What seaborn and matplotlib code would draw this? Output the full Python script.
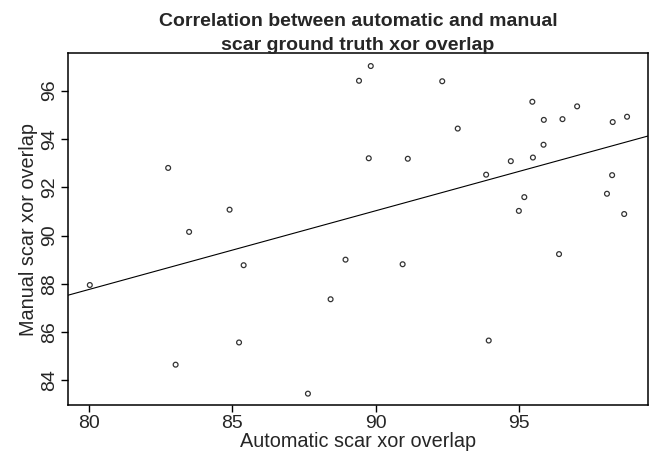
import matplotlib
matplotlib.use("Agg")
import matplotlib.pyplot as plt
import seaborn as sns
import pandas as pd

sns.set_style("white")
plt.rcParams['font.family'] = ['Liberation Sans', 'DejaVu Sans']

automatic = [89.82, 89.41, 92.31, 95.45, 97.01, 95.85, 96.50, 98.25, 98.75, 92.85,
             95.84, 89.75, 91.11, 94.70, 95.47, 93.84, 98.23, 98.05, 95.17, 94.98,
             98.65, 82.76, 84.90, 83.49, 80.03, 85.39, 88.94, 88.42, 85.23, 83.02,
             87.63, 90.93, 96.38, 93.93]
manual = [97.02, 96.41, 96.39, 95.54, 95.35, 94.79, 94.82, 94.70, 94.92, 94.43,
          93.76, 93.20, 93.18, 93.08, 93.23, 92.52, 92.50, 91.73, 91.59, 91.02,
          90.89, 92.80, 91.07, 90.15, 87.95, 88.77, 89.00, 87.36, 85.57, 84.65,
          83.45, 88.81, 89.23, 85.65]
x_ticks = [80, 85, 90, 95]
y_ticks = [84, 86, 88, 90, 92, 94, 96]

df = pd.DataFrame({"auto": automatic, "manual": manual})

fig = plt.figure(figsize=(6.54, 4.62), dpi=100)
ax = fig.add_axes([68/654, 1-405/462, (648-68)/654, (405-53)/462])

sns.regplot(data=df, x="auto", y="manual", ax=ax, ci=None, truncate=False,
            scatter_kws=dict(s=12, facecolors="none", edgecolors="black", linewidths=0.9),
            line_kws=dict(color="black", lw=0.8))

ax.set_xlim(79.27, 99.48)
ax.set_ylim(82.98, 97.56)
ax.set_xticks(x_ticks)
ax.set_yticks(y_ticks)
ax.set_xticklabels([str(t) for t in x_ticks], fontsize=14)
ax.set_yticklabels([str(t) for t in y_ticks], fontsize=14, rotation=90, va="center")
ax.tick_params(axis="both", direction="out", length=5, width=1, color="black",
               bottom=True, left=True, pad=2)
for s in ax.spines.values():
    s.set_color("black")
    s.set_linewidth(1.1)
    s.set_visible(True)

ax.set_xlabel("Automatic scar xor overlap", fontsize=14.3, labelpad=0)
ax.set_ylabel("Manual scar xor overlap", fontsize=14.3, labelpad=2)
ax.set_title("Correlation between automatic and manual\nscar ground truth xor overlap",
             fontsize=14, fontweight="bold", pad=2, linespacing=1.55)

fig.savefig("out.png", dpi=100)
